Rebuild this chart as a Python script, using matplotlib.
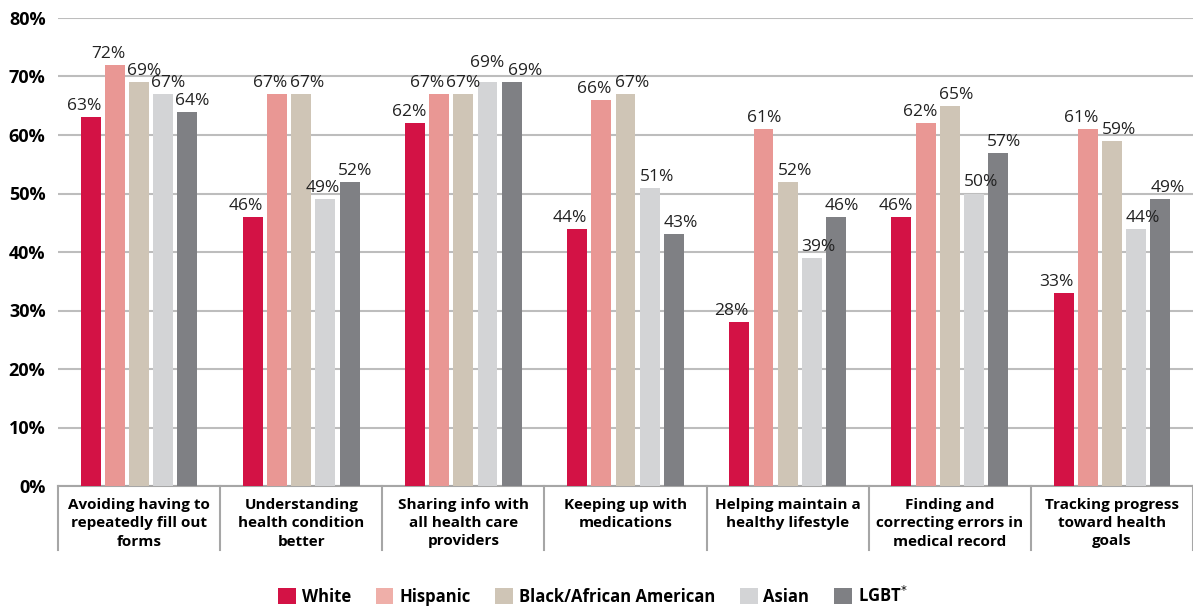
import matplotlib
matplotlib.use("Agg")
import numpy as np
import matplotlib.pyplot as plt
from matplotlib.patches import Patch
import matplotlib.transforms as mtransforms

plt.rcParams["font.family"] = ["Open Sans", "DejaVu Sans"]

categories = [
    "Avoiding having to\nrepeatedly fill out\nforms",
    "Understanding\nhealth condition\nbetter",
    "Sharing info with\nall health care\nproviders",
    "Keeping up with\nmedications",
    "Helping maintain a\nhealthy lifestyle",
    "Finding and\ncorrecting errors in\nmedical record",
    "Tracking progress\ntoward health\ngoals",
]
groups = ["White", "Hispanic", "Black/African American", "Asian", "LGBT$^{*}$"]
white = [63, 46, 62, 44, 28, 46, 33]
hispanic = [72, 67, 67, 66, 61, 62, 61]
black = [69, 67, 67, 67, 52, 65, 59]
asian = [67, 49, 69, 51, 39, 50, 44]
lgbt = [64, 52, 69, 43, 46, 57, 49]
yticks = [0, 10, 20, 30, 40, 50, 60, 70, 80]

series = [white, hispanic, black, asian, lgbt]
colors = ["#D31245", "#E99794", "#CFC5B6", "#D3D4D6", "#7F8084"]
legend_colors = ["#D31245", "#EFAFA9", "#CFC5B6", "#D3D4D6", "#7F8084"]

# value-label nudges (pixels) so neighbouring labels don't collide
label_dx = np.array([
    [-7, -7, -6, -7, -8, -6, -7],
    [-7, -7, -12, -7, 1, -5, -7],
    [5, 6, 0, 7, 7, 6, 7],
    [5, -3, 0, 7, 7, 7, 7],
    [5, 6, 13, 7, 6, 6, 8],
])
label_dy = np.zeros_like(label_dx)
label_dy[3, 2] = 8

fig = plt.figure(figsize=(11.93, 6.08), dpi=100)
ax = fig.add_axes([58 / 1193, 122 / 608, (1193 - 58) / 1193, 468 / 608])

x = np.arange(len(categories))
bw = 0.123
step = 0.149
for i, (vals, c) in enumerate(zip(series, colors)):
    pos = x + (i - 2) * step
    ax.bar(pos, vals, width=bw, color=c, zorder=3)
    for j, (p, v) in enumerate(zip(pos, vals)):
        ax.annotate(f"{v}%", (p, v), xytext=(label_dx[i, j], 3 + label_dy[i, j]),
                    textcoords="offset pixels", ha="center", va="bottom",
                    fontsize=12.5, color="#222222", zorder=4)

ax.set_xlim(-0.5, len(categories) - 0.5)
ax.set_ylim(0, 80)
ax.set_yticks(yticks)
ax.set_yticklabels([f"{t}%" for t in yticks], fontsize=13, fontweight="bold")
ax.yaxis.grid(True, color="#BDBDBD", linewidth=1.5, zorder=0)
ax.tick_params(axis="y", length=0, pad=9)
ax.set_xticks([])
for s in ["top", "right", "left"]:
    ax.spines[s].set_visible(False)
ax.spines["bottom"].set_color("#A6A6A6")
ax.spines["bottom"].set_linewidth(1.5)

# category separators and labels under the axis
trans = mtransforms.blended_transform_factory(ax.transData, ax.transAxes)
for b in np.arange(len(categories) + 1) - 0.5:
    ax.plot([b, b], [0, -0.137], transform=trans, color="#A6A6A6",
            linewidth=1.5, clip_on=False)
for xi, lab in zip(x, categories):
    ax.text(xi, -0.025, lab, transform=trans, ha="center", va="top",
            fontsize=11, fontweight="bold", linespacing=1.4)

handles = [Patch(facecolor=c, edgecolor="none") for c in legend_colors]
fig.legend(handles, groups, loc="center", bbox_to_anchor=(0.497, 0.02),
           ncol=5, frameon=False, prop={"size": 12, "weight": "bold"},
           handlelength=1.05, handleheight=1.05, columnspacing=1.5,
           handletextpad=0.35)

fig.savefig("out.png", dpi=100)
